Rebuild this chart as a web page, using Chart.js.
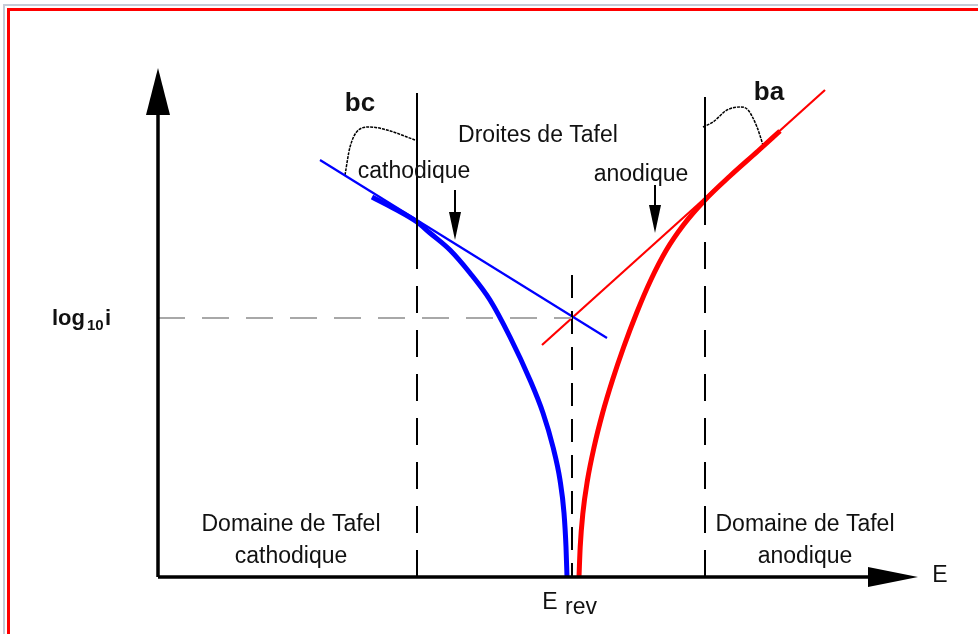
<!DOCTYPE html>
<html>
<head>
<meta charset="utf-8">
<script src="https://cdn.jsdelivr.net/npm/chart.js@4"></script>
<style>
  html, body { margin: 0; padding: 0; background: #fff; overflow: hidden; }
  #wrap { width: 978px; height: 634px; position: relative; overflow: hidden; }
  #wrap canvas { position: absolute; left: 0; top: 0; }
  .edge { position: absolute; }
</style>
</head>
<body>
<div id="wrap">
  <div class="edge" style="left:3px;top:4px;width:980px;height:2px;background:#c4ccd8"></div>
  <div class="edge" style="left:3px;top:4px;width:2px;height:640px;background:#c4ccd8"></div>
  <div class="edge" style="left:7px;top:8px;width:980px;height:3px;background:#ff0000"></div>
  <div class="edge" style="left:7px;top:8px;width:3px;height:640px;background:#ff0000"></div>
  <canvas id="tafel"></canvas>
</div>
<script>
// Data (x = E, y = log10 i, arbitrary units, origin at the axes corner)
const cathodicCurve = [
    {x: 214, y: 380}, {x: 237, y: 368}, {x: 259, y: 355}, {x: 272, y: 344},
    {x: 292, y: 327}, {x: 312, y: 304}, {x: 332, y: 277}, {x: 352, y: 240},
    {x: 372, y: 197}, {x: 385, y: 164}, {x: 395, y: 130}, {x: 402, y: 97},
    {x: 406, y: 64}, {x: 408, y: 30}, {x: 409, y: 0}
];
const anodicCurve = [
    {x: 421, y: 0}, {x: 422.2, y: 30}, {x: 424.9, y: 64}, {x: 429.5, y: 97},
    {x: 436.1, y: 130}, {x: 444.6, y: 164}, {x: 454.5, y: 197}, {x: 465.7, y: 230},
    {x: 478.6, y: 264}, {x: 492.8, y: 297}, {x: 508.4, y: 327}, {x: 525.4, y: 352},
    {x: 547, y: 377}, {x: 572, y: 401}, {x: 600, y: 426}, {x: 622, y: 446}
];
const cathodicTafel = [{x: 162, y: 417}, {x: 449, y: 239}];
const anodicTafel = [{x: 384, y: 232}, {x: 667, y: 487}];

const bcBracket = [
    {x: 187, y: 402}, {x: 192, y: 430}, {x: 204, y: 449}, {x: 212, y: 450},
    {x: 229, y: 447}, {x: 257, y: 437}
];
const baBracket = [
    {x: 545, y: 450}, {x: 555, y: 455}, {x: 569, y: 467}, {x: 582, y: 470},
    {x: 590, y: 467}, {x: 599, y: 450}, {x: 605, y: 432}
];

const eRev = 414;          // reversible potential
const logI0 = 259;         // log10 i at E rev
const cathodicLimit = 259; // start of cathodic Tafel domain
const anodicLimit = 547;   // start of anodic Tafel domain
const xAxisEnd = 760;
const yAxisEnd = 509;

// text labels
const labels = [
    {text: 'bc', x: 202, y: 473, font: 'bold 26px "Liberation Sans", Arial'},
    {text: 'ba', x: 611, y: 484, font: 'bold 26px "Liberation Sans", Arial'},
    {text: 'Droites de Tafel', x: 380, y: 441},
    {text: 'cathodique', x: 256, y: 405},
    {text: 'anodique', x: 483, y: 402},
    {text: 'Domaine de Tafel', x: 133, y: 52},
    {text: 'cathodique', x: 133, y: 20},
    {text: 'Domaine de Tafel', x: 647, y: 52},
    {text: 'anodique', x: 647, y: 20},
    {text: 'E', x: 782, y: 1},
    {text: 'E', x: 392, y: -26},
    {text: 'rev', x: 423, y: -31}
];

// small annotation arrows [x, yFrom, yTo]
const pointerArrows = [[297, 387, 337], [497, 392, 344]];

function seg(data, color, width, dash, smooth) {
    return {
        data: data,
        showLine: true,
        borderColor: color,
        borderWidth: width,
        borderDash: dash || [],
        pointRadius: 0,
        fill: false,
        cubicInterpolationMode: smooth ? 'monotone' : 'default',
        clip: false
    };
}

const datasets = [
    // axes
    seg([{x: 0, y: 0}, {x: xAxisEnd - 50, y: 0}], '#000', 3.5),
    seg([{x: 0, y: 0}, {x: 0, y: yAxisEnd - 45}], '#000', 3.5),
    // log10 i0 guide
    seg([{x: 0, y: logI0}, {x: eRev, y: logI0}], '#a8a8a8', 2, [27, 17]),
    // vertical limits
    seg([{x: cathodicLimit, y: 484}, {x: cathodicLimit, y: 325}], '#000', 2),
    seg([{x: cathodicLimit, y: 0}, {x: cathodicLimit, y: 325}], '#000', 2, [27, 17]),
    seg([{x: anodicLimit, y: 480}, {x: anodicLimit, y: 352}], '#000', 2),
    seg([{x: anodicLimit, y: 0}, {x: anodicLimit, y: 352}], '#000', 2, [27, 17]),
    seg([{x: eRev, y: 302}, {x: eRev, y: 0}], '#000', 2, [23, 13]),
    // Tafel lines
    seg(cathodicTafel, '#0000ff', 2.2),
    seg(anodicTafel, '#ff0000', 2.2),
    // polarisation curves
    seg(cathodicCurve, '#0000ff', 5, null, true),
    seg(anodicCurve, '#ff0000', 5, null, true),
    // slope brackets
    seg(bcBracket, '#000', 1.5, [3, 1], true),
    seg(baBracket, '#000', 1.5, [3, 1], true)
];

// arrow heads and texts
const decorPlugin = {
    id: 'decor',
    afterDatasetsDraw(chart) {
        const ctx = chart.ctx;
        const sx = chart.scales.x, sy = chart.scales.y;
        const px = v => sx.getPixelForValue(v);
        const py = v => sy.getPixelForValue(v);
        ctx.save();
        ctx.fillStyle = '#000';
        // y axis arrow
        ctx.beginPath();
        ctx.moveTo(px(0), py(yAxisEnd));
        ctx.lineTo(px(0) + 12, py(yAxisEnd - 47));
        ctx.lineTo(px(0) - 12, py(yAxisEnd - 47));
        ctx.closePath();
        ctx.fill();
        // x axis arrow
        ctx.beginPath();
        ctx.moveTo(px(xAxisEnd), py(0));
        ctx.lineTo(px(xAxisEnd - 50), py(0) - 10);
        ctx.lineTo(px(xAxisEnd - 50), py(0) + 10);
        ctx.closePath();
        ctx.fill();
        // pointer arrows
        ctx.strokeStyle = '#000';
        ctx.lineWidth = 2;
        pointerArrows.forEach(([x, y0, y1]) => {
            ctx.beginPath();
            ctx.moveTo(px(x), py(y0));
            ctx.lineTo(px(x), py(y1) - 20);
            ctx.stroke();
            ctx.beginPath();
            ctx.moveTo(px(x), py(y1));
            ctx.lineTo(px(x) - 6, py(y1) - 28);
            ctx.lineTo(px(x) + 6, py(y1) - 28);
            ctx.closePath();
            ctx.fill();
        });
        // texts
        ctx.fillStyle = '#111';
        ctx.textAlign = 'center';
        ctx.textBaseline = 'middle';
        labels.forEach(l => {
            ctx.font = l.font || '23px "Liberation Sans", Arial';
            ctx.fillText(l.text, px(l.x), py(l.y));
        });
        // log10 i label
        ctx.textAlign = 'left';
        ctx.font = 'bold 22px "Liberation Sans", Arial';
        ctx.fillText('log', px(-106), py(logI0 - 1));
        ctx.font = 'bold 15px "Liberation Sans", Arial';
        ctx.fillText('10', px(-71), py(logI0 - 8));
        ctx.font = 'bold 22px "Liberation Sans", Arial';
        ctx.fillText('i', px(-53), py(logI0 - 1));
        ctx.restore();
    }
};

new Chart(document.getElementById('tafel'), {
    type: 'scatter',
    data: { datasets: datasets },
    options: {
        responsive: true,
        maintainAspectRatio: false,
        animation: false,
        layout: { padding: 0 },
        plugins: { legend: { display: false }, tooltip: { enabled: false } },
        scales: {
            x: { type: 'linear', display: false, min: -158, max: 820 },
            y: { type: 'linear', display: false, min: -57, max: 577 }
        }
    },
    plugins: [decorPlugin]
});
</script>
</body>
</html>
